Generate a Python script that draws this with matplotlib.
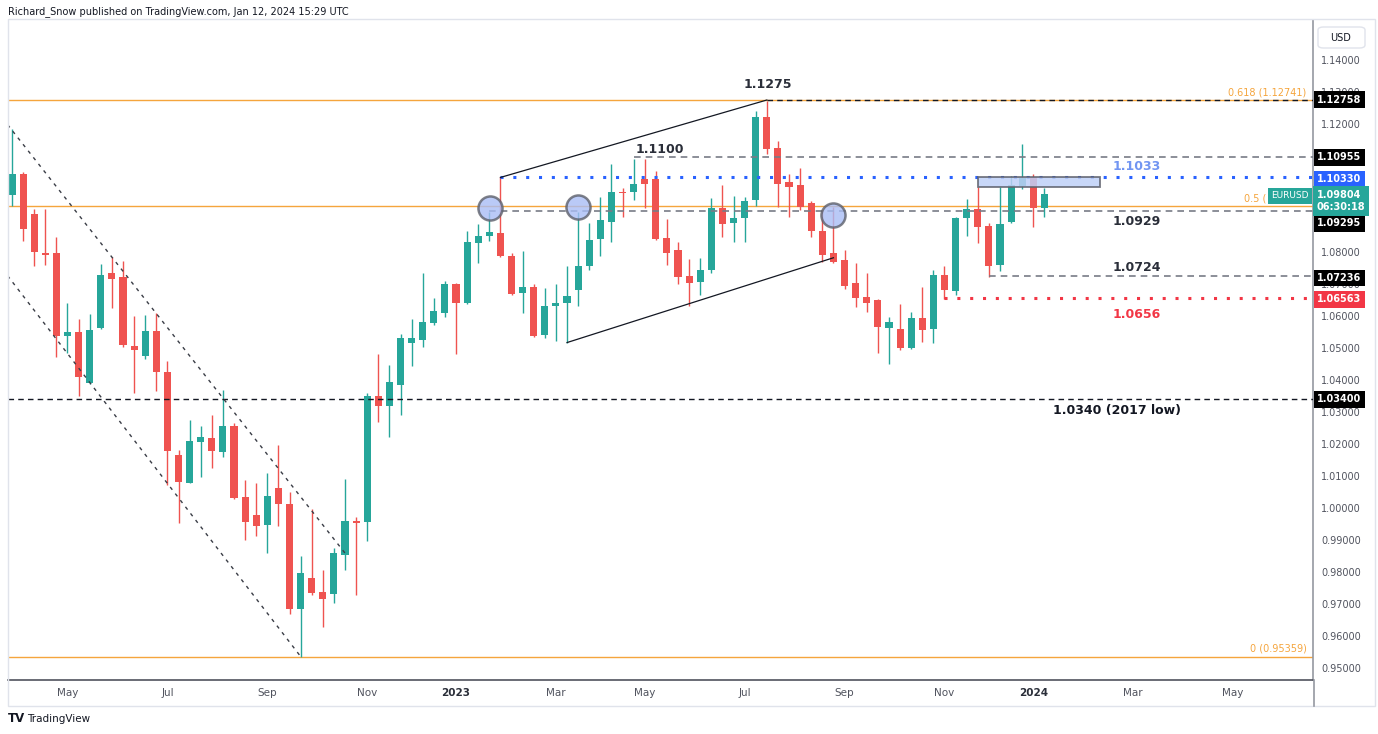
import matplotlib
matplotlib.use('Agg')
import matplotlib.pyplot as plt
import matplotlib.transforms as mtransforms
from matplotlib.patches import Rectangle, FancyBboxPatch
import numpy as np
import pandas as pd

# ---------------------------------------------------------------
# Data: EURUSD weekly candles, first bar = week of 28 Mar 2022
# ---------------------------------------------------------------
start_week = '2022-03-28'

opens = [1.0978, 1.1044, 1.0918, 1.0796, 1.0798, 1.0538, 1.0549, 1.0390, 1.0563, 1.0733,
         1.0721, 1.0506, 1.0475, 1.0553, 1.0426, 1.0166, 1.0079, 1.0207, 1.0218, 1.0176,
         1.0256, 1.0033, 0.9978, 0.9947, 1.0061, 1.0011, 0.9683, 0.9780, 0.9737, 0.9731,
         0.9853, 0.9960, 0.9955, 1.0350, 1.0320, 1.0384, 1.0515, 1.0525, 1.0579, 1.0608,
         1.0699, 1.0640, 1.0829, 1.0850, 1.0858, 1.0788, 1.0673, 1.0692, 1.0541, 1.0631,
         1.0640, 1.0681, 1.0756, 1.0841, 1.0895, 1.0988, 1.0987, 1.1028, 1.1028, 1.0845,
         1.0806, 1.0725, 1.0707, 1.0744, 1.0938, 1.0890, 1.0907, 1.0963, 1.1223, 1.1126,
         1.1020, 1.1009, 1.0952, 1.0867, 1.0798, 1.0775, 1.0704, 1.0658, 1.0650, 1.0562,
         1.0558, 1.0499, 1.0593, 1.0559, 1.0728, 1.0678, 1.0907, 1.0933, 1.0882, 1.0759,
         1.0895, 1.1006, 1.1033, 1.0937]
highs = [1.1183, 1.1051, 1.0933, 1.0933, 1.0848, 1.0640, 1.0590, 1.0606, 1.0763, 1.0783,
         1.0771, 1.0600, 1.0603, 1.0608, 1.0460, 1.0181, 1.0275, 1.0256, 1.0292, 1.0369,
         1.0265, 1.0088, 1.0079, 1.0110, 1.0197, 1.0049, 0.9850, 0.9996, 0.9806, 0.9874,
         1.0090, 0.9973, 1.0360, 1.0480, 1.0447, 1.0544, 1.0591, 1.0733, 1.0655, 1.0710,
         1.0704, 1.0867, 1.0888, 1.0926, 1.1033, 1.0796, 1.0803, 1.0700, 1.0687, 1.0700,
         1.0757, 1.0926, 1.0891, 1.0971, 1.1075, 1.0999, 1.1091, 1.1091, 1.1054, 1.0903,
         1.0830, 1.0778, 1.0782, 1.0968, 1.1009, 1.0975, 1.0971, 1.1242, 1.1273, 1.1148,
         1.1044, 1.1062, 1.0960, 1.0930, 1.0942, 1.0806, 1.0765, 1.0733, 1.0652, 1.0596,
         1.0638, 1.0613, 1.0692, 1.0744, 1.0756, 1.0908, 1.0965, 1.1004, 1.0890, 1.1004,
         1.1038, 1.1138, 1.1044, 1.0999]
lows = [1.0944, 1.0835, 1.0756, 1.0759, 1.0471, 1.0483, 1.0350, 1.0389, 1.0558, 1.0624,
        1.0504, 1.0358, 1.0467, 1.0367, 1.0072, 0.9952, 1.0079, 1.0096, 1.0124, 1.0160,
        1.0028, 0.9900, 0.9911, 0.9860, 0.9945, 0.9668, 0.9535, 0.9728, 0.9629, 0.9704,
        0.9806, 0.9728, 0.9897, 1.0270, 1.0221, 1.0291, 1.0444, 1.0504, 1.0572, 1.0598,
        1.0481, 1.0638, 1.0765, 1.0835, 1.0785, 1.0666, 1.0610, 1.0533, 1.0532, 1.0523,
        1.0517, 1.0631, 1.0744, 1.0788, 1.0830, 1.0908, 1.0963, 1.0938, 1.0838, 1.0759,
        1.0700, 1.0632, 1.0666, 1.0733, 1.0846, 1.0832, 1.0832, 1.0944, 1.1106, 1.0942,
        1.0910, 1.0931, 1.0846, 1.0769, 1.0765, 1.0683, 1.0629, 1.0613, 1.0485, 1.0449,
        1.0494, 1.0497, 1.0520, 1.0515, 1.0652, 1.0666, 1.0850, 1.0829, 1.0721, 1.0742,
        1.0890, 1.0996, 1.0877, 1.0908]
closes = [1.1044, 1.0871, 1.0801, 1.0791, 1.0538, 1.0549, 1.0408, 1.0556, 1.0728, 1.0717,
          1.0509, 1.0494, 1.0553, 1.0424, 1.0178, 1.0082, 1.0209, 1.0223, 1.0178, 1.0256,
          1.0030, 0.9955, 0.9944, 1.0038, 1.0013, 0.9684, 0.9796, 0.9735, 0.9716, 0.9858,
          0.9960, 0.9954, 1.0350, 1.0320, 1.0393, 1.0530, 1.0530, 1.0580, 1.0616, 1.0700,
          1.0640, 1.0830, 1.0851, 1.0864, 1.0788, 1.0669, 1.0692, 1.0538, 1.0632, 1.0640,
          1.0663, 1.0757, 1.0836, 1.0900, 1.0988, 1.0983, 1.1013, 1.1013, 1.0841, 1.0798,
          1.0723, 1.0702, 1.0744, 1.0938, 1.0888, 1.0905, 1.0960, 1.1223, 1.1121, 1.1012,
          1.1004, 1.0940, 1.0867, 1.0791, 1.0770, 1.0695, 1.0655, 1.0640, 1.0567, 1.0582,
          1.0499, 1.0593, 1.0556, 1.0728, 1.0681, 1.0905, 1.0934, 1.0877, 1.0756, 1.0888,
          1.1009, 1.1030, 1.0937, 1.0980]

# Horizontal levels drawn on the chart (price, first bar index, label)
level_prices = [1.12758, 1.10955, 1.10330, 1.09295, 1.07236, 1.06563, 1.03400]
level_start = [68, 56, 44, 43, 88, 84, None]
level_texts = ['1.1275', '1.1100', '1.1033', '1.0929', '1.0724', '1.0656', '1.0340 (2017 low)']
level_tags = ['1.12758', '1.10955', '1.10330', '1.09295', '1.07236', '1.06563', '1.03400']

# Fibonacci retracement levels (the 0.5 label is mostly hidden by the symbol label)
fib_texts = ['0.618 (1.12741)', '0.5 (', '0 (0.95359)']
fib_prices = [1.12741, 1.09422, 0.95359]

# Trend lines (bar index, price)
wedge_up_x, wedge_up_y = [44, 68], [1.1033, 1.1275]
wedge_lo_x, wedge_lo_y = [50, 74], [1.0517, 1.0782]
chan_up_x, chan_up_y = [-0.4, 30], [1.1198, 0.9859]
chan_lo_x, chan_lo_y = [-0.4, 26], [1.0726, 0.9536]

# Highlighted retests and resistance zone
circle_x = [43.1, 51.0, 74.0]
circle_y = [1.0937, 1.0942, 1.0916]
zone_x = [87.0, 98.0]
zone_y = [1.1004, 1.1035]

last_price = 1.09804
countdown = '06:30:18'

# ---------------------------------------------------------------
W, H = 1378, 734
fig = plt.figure(figsize=(W / 100, H / 100), dpi=100)
fig.patch.set_facecolor('white')
ax = fig.add_axes([8 / W, (H - 680) / H, (1313 - 8) / W, (680 - 20) / H])

n = len(opens)
x = np.arange(n)
o, hi, lo, c = map(np.array, (opens, highs, lows, closes))
up_col, dn_col = '#26a69a', '#ef5350'
cols = np.where(c >= o, up_col, dn_col)

x_min, x_max = -0.36, 117.2
ax.set_xlim(x_min, x_max)
ax.set_ylim(0.94625, 1.1525)

# fib lines (underneath everything else)
fib_col = '#f5a53d'
for p in fib_prices:
    ax.axhline(p, color=fib_col, lw=1.0, zorder=1)

# candles
ax.vlines(x, lo, hi, colors=cols, lw=1.0, zorder=3)
body_h = np.maximum(np.abs(c - o), 0.0003)
ax.bar(x, body_h, bottom=np.minimum(o, c), width=0.64, color=cols, lw=0, zorder=4)

# horizontal levels
lvl_styles = [
    dict(color='#131722', ls=(0, (4, 3)), lw=1.0),
    dict(color='#787b86', ls=(0, (4, 3)), lw=1.2),
    dict(color='#2962ff', ls=(0, (1, 3.2)), lw=2.2),
    dict(color='#787b86', ls=(0, (4, 3)), lw=1.2),
    dict(color='#787b86', ls=(0, (4, 3)), lw=1.2),
    dict(color='#f23645', ls=(0, (1, 3.2)), lw=2.2),
    dict(color='#131722', ls=(0, (4, 3)), lw=1.0),
]
for p, s, st in zip(level_prices, level_start, lvl_styles):
    ax.hlines(p, x_min if s is None else s, x_max, zorder=5, **st)

# level text labels: (x bar, offset px)
txt_pos = [(68.1, 15), (58.4, 8), (101.3, 10.5), (101.3, -10.5), (101.3, 9), (101.3, -17), (99.5, -11)]
txt_cols = ['#2a2e39', '#2a2e39', '#7195f2', '#2a2e39', '#2a2e39', '#f23645', '#131722']
for p, t, (bx, dy), tc in zip(level_prices, level_texts, txt_pos, txt_cols):
    ax.annotate(t, xy=(bx, p), xytext=(0, dy * 0.72), textcoords='offset points',
                ha='center', va='center', fontsize=9, fontweight='bold', color=tc, zorder=8)

# trend lines
ax.plot(wedge_up_x, wedge_up_y, color='#131722', lw=0.9, zorder=5)
ax.plot(wedge_lo_x, wedge_lo_y, color='#131722', lw=0.9, zorder=5)
ax.plot(chan_up_x, chan_up_y, color='#3a3d46', lw=1.0, ls=(0, (2.5, 3.5)), zorder=5)
ax.plot(chan_lo_x, chan_lo_y, color='#3a3d46', lw=1.0, ls=(0, (2.5, 3.5)), zorder=5)

# circles and zone
ax.scatter(circle_x, circle_y, s=300, facecolor='#a9bdf5', edgecolor='#5d606b',
           linewidth=1.8, alpha=0.8, zorder=7)
ax.add_patch(Rectangle((zone_x[0], zone_y[0]), zone_x[1] - zone_x[0], zone_y[1] - zone_y[0],
                       facecolor='#bfd0f7', edgecolor='#5d606b', lw=1.3, alpha=0.85, zorder=6))

# axis styling
for sp in ['top', 'left']:
    ax.spines[sp].set_visible(False)
ax.spines['bottom'].set_color('#50535e')
ax.spines['right'].set_color('#9598a1')
ax.spines['bottom'].set_linewidth(1.2)
ax.spines['right'].set_linewidth(1.2)

ax.yaxis.tick_right()
yt = np.round(np.arange(0.95, 1.1401, 0.01), 2)
# 1.09 / 1.10 / 1.11 sit fully under the price tags, so they are left blank
ax.set_yticks(yt)
ax.set_yticklabels(['' if v in (1.09, 1.10, 1.11) else f'{v:.5f}' for v in yt])
ax.tick_params(axis='y', length=0, pad=6, labelsize=7, labelcolor='#50535e')

dates = pd.date_range(start_week, periods=int(x_max) + 1, freq='W-MON')
tick_pos, tick_lab = [], []
for i in range(1, len(dates)):
    if dates[i].month != dates[i - 1].month and dates[i].month % 2 == 1:
        tick_pos.append(i)
        tick_lab.append(str(dates[i].year) if dates[i].month == 1 else dates[i].strftime('%b'))
ax.set_xticks(tick_pos)
ax.set_xticklabels(tick_lab)
ax.tick_params(axis='x', length=0, pad=6, labelsize=7.5, labelcolor='#50535e')
for lab in ax.get_xticklabels():
    if lab.get_text().isdigit():
        lab.set_fontweight('bold')
        lab.set_color('#2a2e39')

# right-axis price tags
blend = mtransforms.blended_transform_factory(ax.transAxes, ax.transData)
tag_fc = ['#000000', '#000000', '#2962ff', '#000000', '#000000', '#f23645', '#000000']
tag_dy = [0, 0, -1.5, -12.8, -1.5, -1.5, 0]
for p, t, fc, dy in zip(level_prices, level_tags, tag_fc, tag_dy):
    ax.annotate(t, xy=(1.0, p), xycoords=blend, xytext=(3, dy * 0.72), textcoords='offset points',
                ha='left', va='center', fontsize=7, fontweight='bold', color='white',
                bbox=dict(boxstyle='square,pad=0.35', fc=fc, ec='none'),
                zorder=10, annotation_clip=False)
ax.annotate(f'{last_price:.5f}\n{countdown}', xy=(1.0, last_price), xycoords=blend,
            xytext=(2.5, -6.5 * 0.72), textcoords='offset points', ha='left', va='center',
            fontsize=7, fontweight='bold', color='white', linespacing=1.25,
            bbox=dict(boxstyle='square,pad=0.4', fc=up_col, ec='none'),
            zorder=11, annotation_clip=False)
ax.annotate('EURUSD', xy=(1.0, last_price), xycoords=blend, xytext=(-3, -1.2), textcoords='offset points',
            ha='right', va='center', fontsize=6.5, color='white',
            bbox=dict(boxstyle='square,pad=0.4', fc=up_col, ec='none'), zorder=11, annotation_clip=False)

# fib labels
fib_xoff = [-4.5, -33.5, -4.5]
for t, p, dx in zip(fib_texts, fib_prices, fib_xoff):
    ax.annotate(t, xy=(1.0, p), xycoords=blend, xytext=(dx, 2),
                textcoords='offset points', ha='right', va='bottom', fontsize=7,
                color=fib_col, zorder=9, annotation_clip=False)

# frame, header, footer
fig.patches.append(Rectangle((8 / W, (H - 706) / H), (1375 - 8) / W, (706 - 19) / H,
                             transform=fig.transFigure, fill=False, ec='#e0e3eb', lw=1.0))
fig.add_artist(plt.Line2D([1313.5 / W, 1313.5 / W], [(H - 706) / H, (H - 680) / H],
                          transform=fig.transFigure, color='#9598a1', lw=1.2))
fig.patches.append(FancyBboxPatch((1318 / W, (H - 48) / H), 47 / W, 21 / H,
                                  boxstyle='round,pad=0,rounding_size=0.004',
                                  transform=fig.transFigure, fc='white', ec='#e0e3eb', lw=1.0))
fig.text(1341 / W, 1 - 38 / H, 'USD', ha='center', va='center', fontsize=7, color='#131722')
fig.text(8 / W, 1 - 12 / H, 'Richard_Snow published on TradingView.com, Jan 12, 2024 15:29 UTC',
         ha='left', va='center', fontsize=7, color='#131722')
fig.text(8 / W, 1 - 719 / H, 'TV', ha='left', va='center', fontsize=8.5, fontweight='heavy', color='#131722')
fig.text(27 / W, 1 - 719 / H, 'TradingView', ha='left', va='center', fontsize=7.5, color='#131722')

plt.savefig('out.png', dpi=100)
